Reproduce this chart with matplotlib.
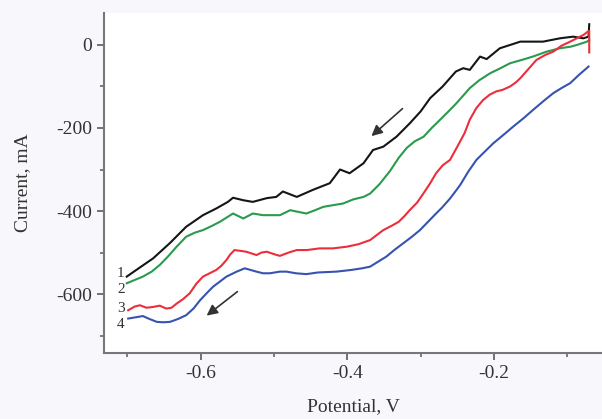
import numpy as np
import matplotlib
matplotlib.use("Agg")
import matplotlib.pyplot as plt

# curve 1 (black)
x1 = [-0.701, -0.688, -0.665, -0.642, -0.620, -0.597, -0.579, -0.563, -0.556, -0.542,
      -0.529, -0.510, -0.497, -0.488, -0.469, -0.447, -0.424, -0.410, -0.397, -0.378,
      -0.365, -0.351, -0.333, -0.315, -0.300, -0.287, -0.270, -0.252, -0.242, -0.233,
      -0.219, -0.210, -0.192, -0.164, -0.133, -0.110, -0.092, -0.078, -0.071, -0.070]
y1 = [-558, -542, -514, -477, -438, -410, -394, -378, -368, -374,
      -378, -369, -366, -353, -366, -349, -333, -300, -309, -285,
      -253, -245, -221, -189, -160, -128, -100, -64, -56, -60,
      -28, -34, -8, 8, 8, 16, 20, 16, 20, 50]

# curve 2 (green)
x2 = [-0.701, -0.690, -0.679, -0.667, -0.656, -0.645, -0.633, -0.620, -0.608, -0.597,
      -0.585, -0.574, -0.565, -0.556, -0.542, -0.529, -0.515, -0.500, -0.492, -0.478,
      -0.467, -0.456, -0.444, -0.433, -0.420, -0.406, -0.392, -0.378, -0.369, -0.356,
      -0.342, -0.330, -0.319, -0.308, -0.296, -0.285, -0.274, -0.262, -0.251, -0.240,
      -0.233, -0.220, -0.205, -0.190, -0.178, -0.160, -0.147, -0.128, -0.110, -0.095,
      -0.087, -0.073, -0.070]
y2 = [-574, -566, -558, -546, -530, -510, -486, -462, -452, -446,
      -436, -426, -416, -406, -418, -406, -410, -410, -410, -398,
      -402, -406, -398, -390, -386, -382, -372, -366, -358, -335,
      -304, -272, -248, -232, -221, -200, -181, -160, -140, -118,
      -104, -85, -68, -55, -44, -35, -28, -16, -8, -4,
      0, 8, 12]

# curve 3 (red)
x3 = [-0.699, -0.690, -0.683, -0.674, -0.665, -0.656, -0.647, -0.640, -0.633, -0.624,
      -0.615, -0.606, -0.597, -0.588, -0.579, -0.572, -0.565, -0.560, -0.554, -0.546,
      -0.538, -0.531, -0.524, -0.517, -0.510, -0.500, -0.492, -0.480, -0.469, -0.455,
      -0.438, -0.420, -0.401, -0.385, -0.369, -0.360, -0.351, -0.340, -0.330, -0.322,
      -0.315, -0.305, -0.296, -0.287, -0.279, -0.270, -0.260, -0.250, -0.240, -0.233,
      -0.224, -0.215, -0.206, -0.197, -0.188, -0.178, -0.170, -0.164, -0.153, -0.142,
      -0.130, -0.119, -0.108, -0.096, -0.087, -0.078, -0.072, -0.070, -0.070]
y3 = [-639, -630, -627, -633, -631, -628, -635, -633, -623, -612,
      -598, -575, -558, -550, -542, -532, -518, -505, -494, -496,
      -498, -502, -506, -500, -498, -504, -508, -500, -494, -494,
      -490, -490, -486, -480, -470, -458, -446, -436, -426, -412,
      -398, -380, -357, -333, -309, -290, -277, -245, -212, -180,
      -152, -133, -120, -112, -108, -100, -90, -80, -58, -36,
      -24, -16, -2, 8, 16, 24, 32, 34, -18]

# curve 4 (blue)
x4 = [-0.699, -0.689, -0.679, -0.670, -0.660, -0.651, -0.642, -0.631, -0.620, -0.610,
      -0.601, -0.592, -0.583, -0.574, -0.565, -0.558, -0.551, -0.540, -0.532, -0.524,
      -0.515, -0.506, -0.492, -0.483, -0.470, -0.456, -0.440, -0.415, -0.395, -0.380,
      -0.369, -0.358, -0.347, -0.336, -0.324, -0.312, -0.301, -0.290, -0.279, -0.271,
      -0.260, -0.251, -0.246, -0.235, -0.224, -0.212, -0.201, -0.188, -0.174, -0.160,
      -0.147, -0.133, -0.119, -0.108, -0.096, -0.084, -0.071]
y4 = [-659, -656, -653, -660, -667, -668, -667, -660, -651, -635,
      -615, -598, -582, -570, -558, -552, -546, -538, -542, -546,
      -550, -550, -546, -546, -550, -552, -548, -546, -542, -538,
      -534, -522, -510, -494, -478, -462, -446, -426, -406, -392,
      -370, -349, -337, -305, -277, -256, -237, -218, -197, -177,
      -157, -136, -116, -104, -92, -72, -52]

curve_labels = ["1", "2", "3", "4"]
label_y = [-550, -590, -634, -673]

plt.rcParams['font.family'] = ['Liberation Serif', 'DejaVu Serif']
plt.rcParams['axes.unicode_minus'] = False

fig = plt.figure(figsize=(6.02, 4.19), dpi=100, facecolor='#f8f8fc')
ax = fig.add_axes([0.1728, 0.1575, 0.8272, 0.8115])
ax.set_facecolor('white')

ax.plot(x1, y1, color='#151515', lw=1.5)
ax.plot(x2, y2, color='#2a9a4c', lw=1.5)
ax.plot(x3, y3, color='#ec2e3a', lw=1.5)
ax.plot(x4, y4, color='#3653b0', lw=1.5)

for lab, ly in zip(curve_labels, label_y):
    ax.text(-0.709, ly, lab, fontsize=11, color='#333333', ha='center', va='center')

# scan direction arrows
ax.annotate("", xy=(-0.370, -224), xytext=(-0.322, -149),
            arrowprops=dict(arrowstyle='-|>', color='#333333', lw=1.2, mutation_scale=16))
ax.annotate("", xy=(-0.595, -656), xytext=(-0.547, -590),
            arrowprops=dict(arrowstyle='-|>', color='#333333', lw=1.2, mutation_scale=16))

ax.set_xlim(-0.732, -0.0526)
ax.set_ylim(-742, 77)
ax.set_xticks([-0.6, -0.4, -0.2])
ax.set_xticks([-0.7, -0.5, -0.3, -0.1], minor=True)
ax.set_yticks([0, -200, -400, -600])
ax.set_yticks([-100, -300, -500, -700], minor=True)

for s in ['top', 'right']:
    ax.spines[s].set_visible(False)
for s in ['left', 'bottom']:
    ax.spines[s].set_color('#777777')
    ax.spines[s].set_linewidth(1.5)

ax.tick_params(which='major', direction='out', length=5, width=1.3, color='#666666',
               labelsize=14, labelcolor='#333333')
ax.tick_params(which='minor', direction='out', length=3, width=1.2, color='#666666')

ax.set_xlabel("Potential, V", fontsize=14, color='#333333', labelpad=12)
ax.set_ylabel("Current, mA", fontsize=14, color='#333333', labelpad=18)

fig.savefig("out.png", dpi=100, facecolor=fig.get_facecolor())
